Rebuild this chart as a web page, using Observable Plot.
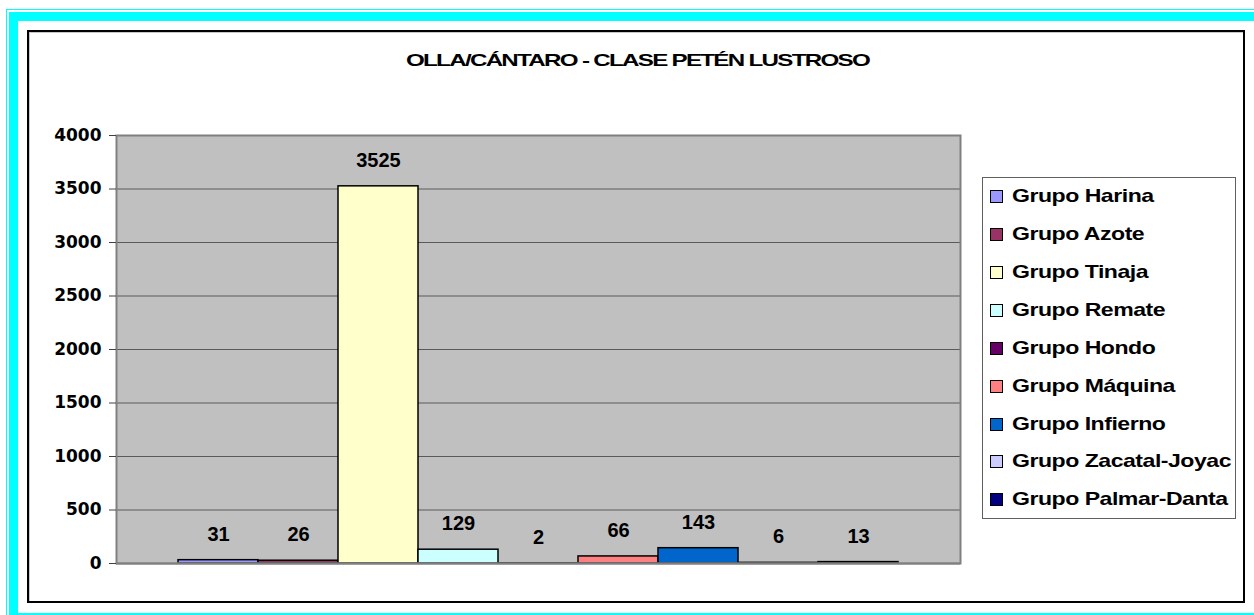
<!DOCTYPE html>
<html>
<head>
<meta charset="utf-8">
<script src="https://cdn.jsdelivr.net/npm/d3@7"></script>
<script src="https://cdn.jsdelivr.net/npm/@observablehq/plot@0.6"></script>
<style>
  html, body { margin: 0; padding: 0; background: #fff; }
  #wrap { position: relative; width: 1254px; height: 615px; overflow: hidden; background: #fff; }
  .abs { position: absolute; box-sizing: border-box; }
  #chart svg { position: absolute; left: 0; top: 0; background: transparent !important; }
  #title { position: absolute; left: 0; top: 0; white-space: nowrap;
           font-family: "Liberation Sans", Arial, sans-serif; font-weight: bold; font-size: 17px;
           letter-spacing: -1.2px; color: #000; transform-origin: 0 0; }
  #legend { position: absolute; left: 982px; top: 177px; width: 254px; height: 342px;
            box-sizing: border-box; border: 1px solid #606060; background: #fff; }
  .item { position: absolute; left: 0; height: 20px; white-space: nowrap;
          font-family: "Liberation Sans", Arial, sans-serif; font-weight: bold; font-size: 19px; color: #000; }
  .sw { position: absolute; left: 7px; top: 3px; width: 13px; height: 13px; box-sizing: border-box; border: 1.5px solid #000; }
  .lbl { position: absolute; left: 29px; top: -3px; line-height: 24px; letter-spacing: -0.4px; transform-origin: 0 50%; }
</style>
</head>
<body>
<div id="wrap">
  <div class="abs" style="left:6px; top:9px; width:1300px; height:700px; border-left:1.5px solid #00ffff; border-top:1.5px solid #00ffff;"></div>
  <div class="abs" style="left:9px; top:12px; width:1300px; height:610px; border:9px solid #00ffff; border-right:none;"></div>
  <div class="abs" style="left:27px; top:30px; width:1218px; height:573px; border:2px solid #000; background:#fff; box-shadow: inset 1px 1px 0 #c8c8c8;"></div>
  <div id="chart"></div>
  <div id="title">OLLA/CÁNTARO - CLASE PETÉN LUSTROSO</div>
  <div id="legend"></div>
</div>
<script>
const groups = ["Grupo Harina", "Grupo Azote", "Grupo Tinaja", "Grupo Remate", "Grupo Hondo",
                "Grupo Máquina", "Grupo Infierno", "Grupo Zacatal-Joyac", "Grupo Palmar-Danta"];
const values = [31, 26, 3525, 129, 2, 66, 143, 6, 13];
const colors = ["#9999FF", "#993366", "#FFFFCC", "#CCFFFF", "#660066",
                "#FF8080", "#0066CC", "#CCCCFF", "#000080"];
const yTicks = [0, 500, 1000, 1500, 2000, 2500, 3000, 3500, 4000];
const gridTicks = [500, 1000, 1500, 2000, 2500, 3000, 3500];

const data = groups.map((g, i) => ({group: g, value: values[i]}));

const plot = Plot.plot({
  width: 1254,
  height: 615,
  marginLeft: 116,
  marginRight: 294,
  marginTop: 135,
  marginBottom: 52,
  style: {background: "transparent", overflow: "visible"},
  x: {type: "band", domain: groups, paddingInner: 0, paddingOuter: 0.75, axis: null},
  y: {domain: [0, 4000], axis: null},
  color: {domain: groups, range: colors},
  marks: [
    Plot.frame({fill: "#C0C0C0", stroke: null}),
    Plot.ruleY(gridTicks, {stroke: "#5a5a5a", strokeWidth: 1}),
    Plot.barY(data, {x: "group", y: "value", fill: "group", stroke: "#000", strokeWidth: 1.5, inset: 0}),
    Plot.frame({stroke: "#808080", strokeWidth: 2}),
    Plot.ruleY([0], {stroke: "#808080", strokeWidth: 2}),
    Plot.ruleX([0], {frameAnchor: "left", stroke: "#666", strokeWidth: 1.5}),
    Plot.axisY(yTicks, {anchor: "left", label: null, tickSize: 7, tickPadding: 8, stroke: "#404040",
      fontSize: 17, fontWeight: "bold", fontFamily: "DejaVu Sans", fill: "#000",
      tickFormat: d => String(d)}),
    Plot.text(data, {x: "group", y: "value", text: d => String(d.value), dy: -26,
      fontSize: 20, fontWeight: "bold", fontFamily: "Liberation Sans", fill: "#000"})
  ]
});
document.getElementById("chart").appendChild(plot);

// Title: fit to target width and center
const title = document.getElementById("title");
const tw = title.getBoundingClientRect().width;
const targetW = 463;
const k = targetW / tw;
title.style.left = (637 - targetW / 2) + "px";
title.style.top = (61 - 10) + "px";
title.style.transform = `scaleX(${k})`;

// Legend
const legend = document.getElementById("legend");
const rowY = [196, 234, 272, 310, 348, 386, 424, 461, 499];
const lbls = [];
groups.forEach((g, i) => {
  const it = document.createElement("div");
  it.className = "item";
  it.style.top = (rowY[i] - 177 - 10) + "px";
  it.innerHTML = `<div class="sw" style="background:${colors[i]}"></div><div class="lbl">${g}</div>`;
  legend.appendChild(it);
  lbls.push(it.querySelector(".lbl"));
});
// stretch labels so the longest matches the reference width
const longest = lbls[7].getBoundingClientRect().width;
const lk = 219 / longest;
lbls.forEach(l => { l.style.transform = `scaleX(${lk})`; });
</script>
</body>
</html>
